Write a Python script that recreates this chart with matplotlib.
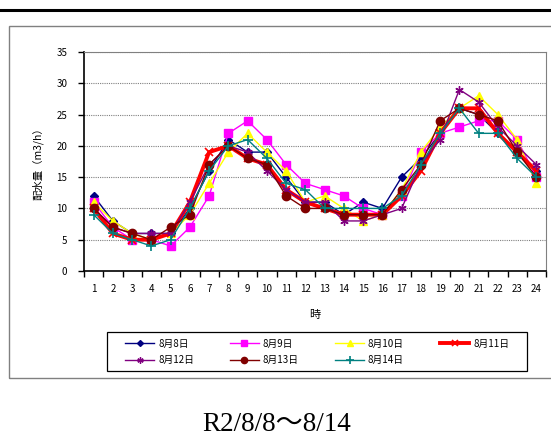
import matplotlib.pyplot as plt
from matplotlib.patches import Rectangle
from matplotlib.lines import Line2D

# 時刻 (1〜24時)
hours = list(range(1, 25))

# 各日の配水量 (m3/h)
aug08 = [12, 8, 6, 6, 6, 10, 16, 21, 19, 19, 15, 11, 11, 9, 11, 10, 15, 18, 22, 26, 25, 22, 19, 16]
aug09 = [11, 7, 5, 5, 4, 7, 12, 22, 24, 21, 17, 14, 13, 12, 10, 9, 12, 19, 22, 23, 24, 24, 21, 15]
aug10 = [11, 8, 6, 5, 6, 9, 14, 19, 22, 19, 16, 11, 12, 10, 8, 9, 13, 19, 23, 26, 28, 25, 21, 14]
aug11 = [10, 6, 5, 5, 6, 11, 19, 20, 18, 17, 13, 11, 10, 9, 9, 9, 12, 16, 22, 26, 26, 22, 19, 16]
aug12 = [10, 7, 6, 6, 6, 11, 17, 20, 19, 16, 13, 11, 11, 8, 8, 9, 10, 17, 21, 29, 27, 23, 20, 17]
aug13 = [10, 7, 6, 5, 7, 9, 17, 20, 18, 17, 12, 10, 10, 9, 9, 9, 13, 17, 24, 26, 25, 24, 19, 15]
aug14 = [9, 6, 5, 4, 5, 10, 16, 20, 21, 18, 14, 13, 10, 10, 10, 10, 12, 17, 22, 26, 22, 22, 18, 15]

labels = ["8月8日", "8月9日", "8月10日", "8月11日", "8月12日", "8月13日", "8月14日"]
series = [aug08, aug09, aug10, aug11, aug12, aug13, aug14]

# 線の書式 (色, マーカー, マーカーサイズ, 線幅)
styles = [
    ("#000080", "D", 4, 1.0),
    ("#FF00FF", "s", 6, 1.0),
    ("#FFFF00", "^", 6, 1.0),
    ("#FF0000", "x", 6, 2.8),
    ("#800080", (6, 2, 0), 6, 1.0),
    ("#800000", "o", 6, 1.0),
    ("#008080", "+", 7, 1.0),
]

plt.rcParams['font.family'] = ['Noto Sans CJK JP', 'DejaVu Sans']

W, H = 551, 440
fig = plt.figure(figsize=(W / 100, H / 100), dpi=100)

# 上の太線とグラフ枠
fig.add_artist(Line2D([0, 1], [1 - 10 / H, 1 - 10 / H], color="black", lw=2.2, transform=fig.transFigure))
fig.add_artist(Rectangle((9 / W, 1 - 378 / H), 560 / W, 352 / H, transform=fig.transFigure,
                         fill=False, edgecolor="#808080", lw=1.0))

ax = fig.add_axes([84 / W, 1 - 271 / H, 462 / W, 219 / H])
handles = []
for vals, lab, (c, m, ms, lw) in zip(series, labels, styles):
    ln, = ax.plot(hours, vals, color=c, marker=m, markersize=ms, lw=lw, label=lab,
                  markeredgecolor=c, markerfacecolor=c, markeredgewidth=1.2 if m in ("x", "+") else 1.0)
    handles.append(ln)

ax.set_xlim(0.5, 24.5)
ax.set_ylim(0, 35)
ax.set_yticks(range(0, 36, 5))
ax.set_xticks(hours)
ax.set_xticks([h + 0.5 for h in range(0, 25)], minor=True)
ax.tick_params(axis="x", which="major", length=0, labelsize=7, pad=9)
ax.tick_params(axis="x", which="minor", length=4, width=1.0, direction="out")
ax.tick_params(axis="y", length=4, width=1.0, direction="out", labelsize=7, pad=8)
ax.grid(axis="y", color="#808080", linestyle=(0, (1, 1)), lw=0.8)
ax.set_axisbelow(True)
for s in ("top", "right"):
    ax.spines[s].set_color("#808080")
    ax.spines[s].set_linewidth(0.8)
for s in ("left", "bottom"):
    ax.spines[s].set_color("black")
    ax.spines[s].set_linewidth(1.2)

ax.set_xlabel("時", fontsize=8, labelpad=12)
ax.set_ylabel("配水量（m3/h）", fontsize=7.5, labelpad=9)

# 凡例の枠
fig.add_artist(Rectangle((107 / W, 1 - 371 / H), 420 / W, 39 / H, transform=fig.transFigure,
                         fill=False, edgecolor="black", lw=0.9))
# 凡例は行順 (列優先で並ぶので入れ替え)
order = [0, 4, 1, 5, 2, 6, 3]
leg = fig.legend([handles[i] for i in order], [labels[i] for i in order],
                 loc="center", bbox_to_anchor=((107 + 527) / 2 / W, 1 - 352 / H), ncol=4,
                 fontsize=7, frameon=False, markerscale=0.75,
                 handlelength=3.0, columnspacing=3.7, borderpad=0.3, labelspacing=0.7, handletextpad=0.4)

fig.text(277 / W, 1 - 431 / H, "R2/8/8～8/14", ha="center", va="baseline", fontsize=19.5,
         family=["Liberation Serif", "Noto Sans CJK JP"])

fig.savefig("out.png", dpi=100)
